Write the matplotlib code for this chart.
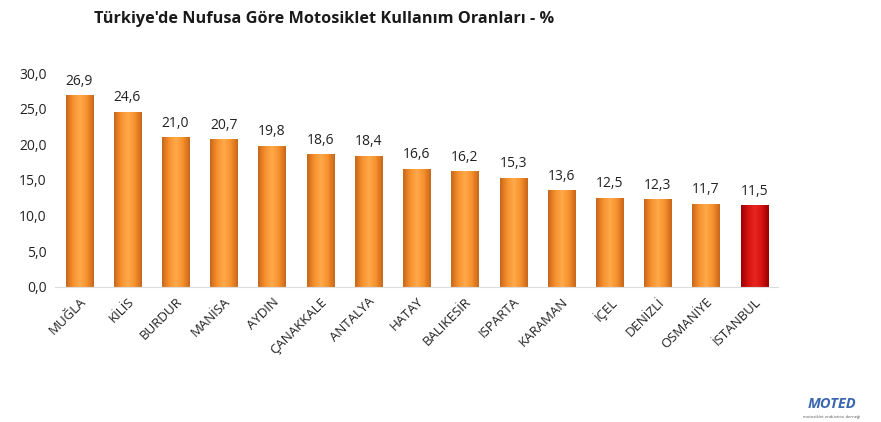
import numpy as np
import matplotlib.pyplot as plt
from matplotlib.colors import LinearSegmentedColormap

iller = ["MUĞLA", "KİLİS", "BURDUR", "MANİSA", "AYDIN", "ÇANAKKALE", "ANTALYA",
         "HATAY", "BALIKESİR", "ISPARTA", "KARAMAN", "İÇEL", "DENİZLİ",
         "OSMANİYE", "İSTANBUL"]
oranlar = [26.9, 24.6, 21.0, 20.7, 19.8, 18.6, 18.4, 16.6, 16.2, 15.3, 13.6,
           12.5, 12.3, 11.7, 11.5]
y_ticks = [0, 5, 10, 15, 20, 25, 30]

plt.rcParams['font.family'] = ['Open Sans', 'DejaVu Sans']

fig = plt.figure(figsize=(8.81, 4.22), dpi=100)
ax = fig.add_axes([0.0624, 0.32, 0.821, 0.507])

# yatay gradyan: kenarlar koyu, orta açık
turuncu = LinearSegmentedColormap.from_list("t", ["#C9671B", "#F5912C", "#FFAA4C", "#F5912C", "#C9671B"])
kirmizi = LinearSegmentedColormap.from_list("k", ["#9A0000", "#D41212", "#E8261F", "#D41212", "#9A0000"])

x = np.arange(len(iller))
bars = ax.bar(x, oranlar, width=0.56, color="none", edgecolor="none")
grad = np.linspace(0, 1, 64).reshape(1, -1)
for i, b in enumerate(bars):
    cmap = kirmizi if iller[i] == "İSTANBUL" else turuncu
    x0, w, h = b.get_x(), b.get_width(), b.get_height()
    im = ax.imshow(grad, cmap=cmap, aspect="auto", extent=(x0, x0 + w, 0, h), zorder=2)
    im.set_clip_path(b)
    ax.text(b.get_x() + w / 2, h + 0.9, f"{oranlar[i]:.1f}".replace(".", ","),
            ha="center", va="bottom", fontsize=10, color="#222222")

ax.set_xlim(-0.5, len(iller) - 0.5)
ax.set_ylim(0, 30)
ax.set_yticks(y_ticks)
ax.set_yticklabels([f"{v:.1f}".replace(".", ",") for v in y_ticks], fontsize=10, color="#222222")
ax.set_xticks(x)
ax.set_xticklabels(iller, rotation=45, ha="right", rotation_mode="anchor", fontsize=9.5, color="#222222")
ax.tick_params(length=0, pad=6)
for s in ["top", "right", "left"]:
    ax.spines[s].set_visible(False)
ax.spines["bottom"].set_color("#dddddd")

fig.text(0.368, 0.955, "Türkiye'de Nufusa Göre Motosiklet Kullanım Oranları - %",
         ha="center", va="center", fontsize=11.7, fontweight="bold", color="#1a1a1a")

fig.text(0.944, 0.042, "MOTED", ha="center", va="center", fontsize=10.5,
         fontweight="bold", style="italic", color="#3a66b0")
fig.text(0.944, 0.012, "motosiklet endüstrisi derneği", ha="center", va="center",
         fontsize=3, color="#555555")

fig.savefig("out.png", dpi=100)
